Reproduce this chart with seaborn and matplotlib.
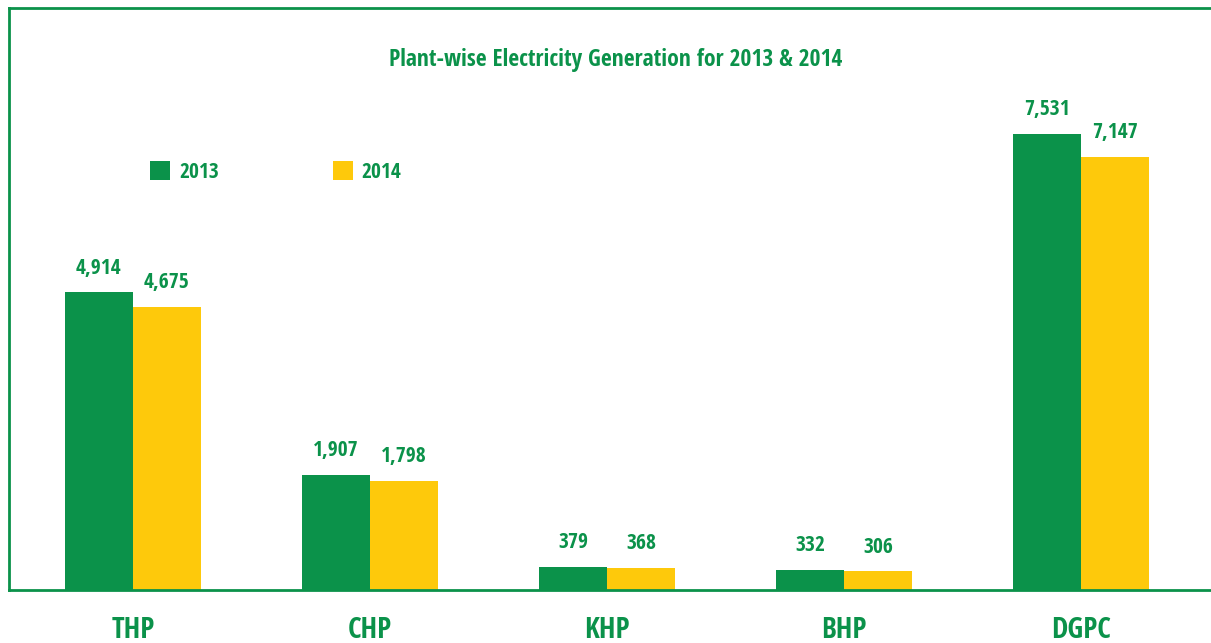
import matplotlib
matplotlib.use("Agg")
import matplotlib.pyplot as plt
from matplotlib import font_manager as fm
import seaborn as sns
import pandas as pd
from matplotlib.patches import Patch

plants = ["THP", "CHP", "KHP", "BHP", "DGPC"]
gen_2013 = [4914, 1907, 379, 332, 7531]
gen_2014 = [4675, 1798, 368, 306, 7147]
years = ["2013", "2014"]
title = "Plant-wise Electricity Generation for 2013 & 2014"

GREEN = "#0b924a"
YELLOW = "#fec90b"


def pick_font():
    prefs = ["Open Sans Condensed", "Noto Sans Condensed", "Roboto Condensed",
             "Liberation Sans Narrow", "DejaVu Sans Condensed", "Noto Sans",
             "Open Sans", "Roboto", "DejaVu Sans"]
    fonts = fm.fontManager.ttflist
    cands = []
    for f in fonts:
        nm = f.name
        path = f.fname.lower()
        cond = ("condensed" in nm.lower() or "narrow" in nm.lower()
                or f.stretch in ("condensed", "semi-condensed", "extra-condensed")
                or "condensed" in path or "narrow" in path)
        w = f.weight if isinstance(f.weight, int) else (700 if "bold" in str(f.weight) else 400)
        bold = w >= 600 or "bold" in path
        italic = f.style != "normal" or "italic" in path or "oblique" in path
        if cond and bold and not italic and "extra" not in path and "semi" not in path:
            rank = len(prefs)
            for i, p in enumerate(prefs):
                if nm.startswith(p.split()[0]):
                    rank = i
                    break
            cands.append((rank, f.fname))
    if cands:
        cands.sort()
        return fm.FontProperties(fname=cands[0][1])
    return fm.FontProperties(family="DejaVu Sans", weight="bold")


BASE = pick_font()


def fp(size):
    p = BASE.copy()
    p.set_size(size)
    return p


df = pd.DataFrame({
    "plant": plants * 2,
    "value": gen_2013 + gen_2014,
    "year": [years[0]] * len(plants) + [years[1]] * len(plants),
})

sns.set_theme(style="white")

fig = plt.figure(figsize=(12.11, 6.43), dpi=100)
ax = fig.add_axes([9 / 1211, 53 / 643, 1 - 9 / 1211, (590 - 8) / 643])

sns.barplot(data=df, x="plant", y="value", hue="year", order=plants,
            hue_order=years, palette=[GREEN, YELLOW], width=0.574, gap=0,
            saturation=1, ax=ax, legend=False, linewidth=0)

ax.set_xlim(-0.523, 4.549)
ax.set_ylim(0, 9612)
ax.set_xlabel("")
ax.set_ylabel("")
ax.set_yticks([])
ax.set_xticks(range(len(plants)))
ax.set_xticklabels([])
ax.tick_params(axis="x", length=0)

for side in ["left", "top", "bottom"]:
    ax.spines[side].set_visible(True)
    ax.spines[side].set_color(GREEN)
    ax.spines[side].set_linewidth(2.0)
ax.spines["right"].set_visible(False)

fig.canvas.draw()
renderer = fig.canvas.get_renderer()
PX2PT = 72 / fig.dpi


def fitted_size(text, target_px, start=16):
    t = fig.text(0, 0, text, fontproperties=fp(start))
    w = t.get_window_extent(renderer).width
    t.remove()
    return start * target_px / w


cat_size = fitted_size("THP", 43)
lab_size = fitted_size("4,914", 46)
title_size = fitted_size(title, 453)
leg_size = fitted_size("2013", 40)

# category labels (baseline ~48 px below the axis line)
for i, name in enumerate(plants):
    ax.annotate(name, xy=(i, 0), xycoords=("data", "axes fraction"),
                xytext=(0, -48 * PX2PT), textcoords="offset points",
                ha="center", va="baseline", color=GREEN,
                fontproperties=fp(cat_size))

# value labels
for cont in ax.containers:
    ax.bar_label(cont, labels=[f"{v:,.0f}" for v in cont.datavalues],
                 padding=10, color=GREEN, fontproperties=fp(lab_size))

ax.text((616 - 9) / 1202, (590 - 60) / 582, title,
        transform=ax.transAxes, ha="center", va="center",
        color=GREEN, fontproperties=fp(title_size))

fpx = leg_size / PX2PT
handles = [Patch(facecolor=GREEN, edgecolor="none"),
           Patch(facecolor=YELLOW, edgecolor="none")]
leg = ax.legend(handles, years, loc="center left",
                bbox_to_anchor=((150 - 9) / 1202, (590 - 172) / 582), ncol=2,
                frameon=False, borderpad=0, borderaxespad=0,
                handlelength=20 / fpx, handleheight=20 / fpx,
                handletextpad=9 / fpx, columnspacing=114 / fpx,
                prop=fp(leg_size))
for t in leg.get_texts():
    t.set_color(GREEN)

fig.savefig("out.png", dpi=100)
